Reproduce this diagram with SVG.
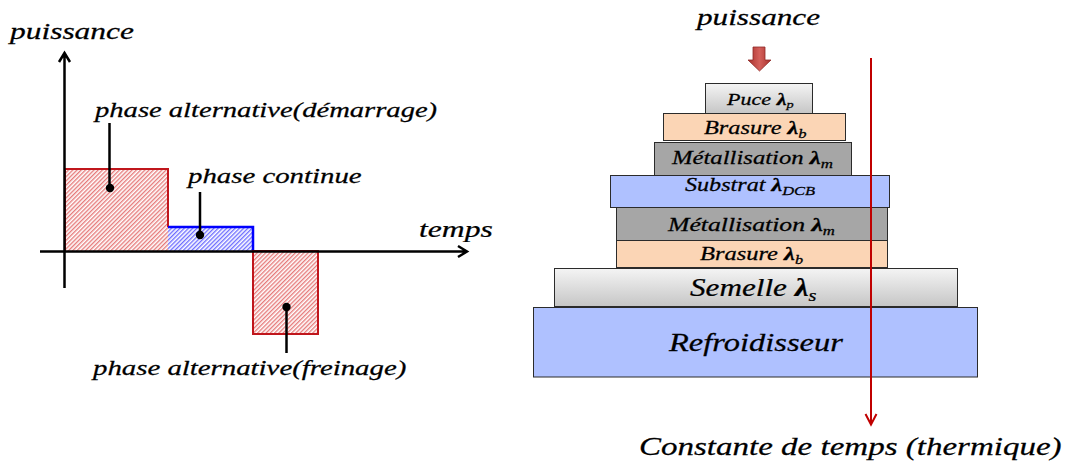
<svg xmlns="http://www.w3.org/2000/svg" width="1068" height="463" viewBox="0 0 1068 463">
<defs>
<style>
.t{fill:#000;stroke:#000;stroke-width:0.25}
.lam{font-weight:bold}
.ax{stroke:#000;stroke-width:2.5;fill:none}
.lead{stroke:#000;stroke-width:2.5}
.layer{stroke:#2b2b2b;stroke-width:1}
</style>
<pattern id="hatchRed" patternUnits="userSpaceOnUse" width="3" height="3" patternTransform="rotate(45)">
<rect width="3" height="3" fill="#fff"/>
<line x1="0.75" y1="0" x2="0.75" y2="3" stroke="#e05a5a" stroke-width="1.1"/>
</pattern>
<pattern id="hatchBlue" patternUnits="userSpaceOnUse" width="3" height="3" patternTransform="rotate(45)">
<rect width="3" height="3" fill="#fff"/>
<line x1="0.75" y1="0" x2="0.75" y2="3" stroke="#4a4aff" stroke-width="1.1"/>
</pattern>
<linearGradient id="grayGrad" x1="0" y1="0" x2="0" y2="1">
<stop offset="0" stop-color="#f4f4f4"/>
<stop offset="1" stop-color="#c6c6c6"/>
</linearGradient>
<linearGradient id="arrowGrad" x1="0" y1="0" x2="1" y2="0">
<stop offset="0" stop-color="#a8302c"/>
<stop offset="0.5" stop-color="#d4605b"/>
<stop offset="1" stop-color="#a8302c"/>
</linearGradient>
</defs>

<g id="phase-demarrage">
<rect x="65" y="169" width="103" height="82" fill="url(#hatchRed)"/>
<path d="M65,251 V169 H168 V227" fill="none" stroke="#c0161c" stroke-width="2"/>
</g>
<g id="phase-continue">
<rect x="168" y="227" width="85" height="24" fill="url(#hatchBlue)"/>
<path d="M168,227 H253 V251" fill="none" stroke="#0000ff" stroke-width="2.5"/>
</g>
<g id="phase-freinage">
<rect x="253" y="251" width="65" height="83" fill="url(#hatchRed)" stroke="#c0161c" stroke-width="2"/>
</g>

<g id="axes">
<path class="ax" d="M64.5,288 V53 M59,62 L64.5,53 L70,62"/>
<path class="ax" d="M40,251.5 H467 M458,246 L467,251.5 L458,257"/>
<text class="t" font-family="Liberation Serif" font-style="italic" font-size="24" transform="translate(10,39) scale(1.31,1)">puissance</text>
<text class="t" font-family="Liberation Serif" font-style="italic" font-size="24" transform="translate(419,237) scale(1.32,1)">temps</text>
</g>

<g id="label-demarrage">
<text class="t" font-family="Liberation Serif" font-style="italic" font-size="22" transform="translate(95,117) scale(1.3,1)">phase alternative(démarrage)</text>
</g>
<g id="label-continue">
<text class="t" font-family="Liberation Serif" font-style="italic" font-size="22" transform="translate(188,183) scale(1.31,1)">phase continue</text>
</g>
<g id="label-freinage">
<text class="t" font-family="Liberation Serif" font-style="italic" font-size="22" transform="translate(93,375) scale(1.31,1)">phase alternative(freinage)</text>
</g>

<g id="puissance-right">
<text class="t" font-family="Liberation Serif" font-style="italic" font-size="24" transform="translate(697,25) scale(1.30,1)">puissance</text>
</g>

<g id="refroidisseur">
<rect class="layer" x="533.5" y="307.5" width="444" height="69.5" fill="#afc1ff"/>
<text class="t" font-family="Liberation Serif" font-style="italic" font-size="26" transform="translate(669,351) scale(1.25,1)">Refroidisseur</text>
</g>
<g id="semelle">
<rect class="layer" x="554.5" y="268.5" width="403" height="38" fill="url(#grayGrad)"/>
<text class="t" font-family="Liberation Serif" font-style="italic" font-size="26" transform="translate(690,296) scale(1.2,1)">Semelle <tspan class="lam">λ</tspan><tspan font-size="17" dy="5">s</tspan></text>
</g>
<g id="brasure2">
<rect class="layer" x="616.5" y="240.5" width="271" height="27" fill="#fbd5b5"/>
<text class="t" font-family="Liberation Serif" font-style="italic" font-size="18" transform="translate(700,260) scale(1.36,1)">Brasure <tspan class="lam">λ</tspan><tspan font-size="12" dy="4">b</tspan></text>
</g>
<g id="metallisation2">
<rect class="layer" x="616.5" y="207.5" width="271" height="33" fill="#a6a6a6"/>
<text class="t" font-family="Liberation Serif" font-style="italic" font-size="18.5" transform="translate(668,231) scale(1.39,1)">Métallisation <tspan class="lam">λ</tspan><tspan font-size="12" dy="4">m</tspan></text>
</g>
<g id="substrat">
<rect class="layer" x="610.5" y="175.5" width="279" height="32" fill="#afc1ff"/>
<text class="t" font-family="Liberation Serif" font-style="italic" font-size="19" transform="translate(685,191) scale(1.27,1)">Substrat <tspan class="lam">λ</tspan><tspan font-size="13" dy="4">DCB</tspan></text>
</g>
<g id="metallisation1">
<rect class="layer" x="654.5" y="142.5" width="197" height="33" fill="#a6a6a6"/>
<text class="t" font-family="Liberation Serif" font-style="italic" font-size="19" transform="translate(672,164) scale(1.3,1)">Métallisation <tspan class="lam">λ</tspan><tspan font-size="13" dy="4">m</tspan></text>
</g>
<g id="brasure1">
<rect class="layer" x="663.5" y="113.5" width="182" height="27" fill="#fbd5b5"/>
<text class="t" font-family="Liberation Serif" font-style="italic" font-size="19" transform="translate(704,134) scale(1.28,1)">Brasure <tspan class="lam">λ</tspan><tspan font-size="13" dy="4">b</tspan></text>
</g>
<g id="puce">
<rect class="layer" x="705.5" y="83.5" width="107" height="30" fill="url(#grayGrad)"/>
<text class="t" font-family="Liberation Serif" font-style="italic" font-size="17" transform="translate(727,105) scale(1.3,1)">Puce <tspan class="lam">λ</tspan><tspan font-size="11" dy="3">p</tspan></text>
</g>

<g id="label-constante">
<text class="t" font-family="Liberation Serif" font-style="italic" font-size="26" transform="translate(639,455) scale(1.27,1)">Constante de temps (thermique)</text>
</g>

<g id="connectors">
<line class="lead" x1="109.5" y1="123" x2="109.5" y2="188"/>
<circle cx="110" cy="188" r="4.2"/>
<line class="lead" x1="200" y1="192" x2="200" y2="235"/>
<circle cx="200" cy="235" r="4.2"/>
<line class="lead" x1="286.5" y1="307" x2="286.5" y2="353"/>
<circle cx="286.5" cy="307" r="4.2"/>
<line x1="871" y1="58" x2="871" y2="424" stroke="#c00000" stroke-width="2"/>
<path d="M865.5,414 L871,424.5 L876.5,414" fill="none" stroke="#c00000" stroke-width="2"/>
<path d="M753,47 H765 V60 H771 L759.5,71 L748,60 H753 Z" fill="url(#arrowGrad)" stroke="#8f2a27" stroke-width="0.8"/>
</g>
</svg>
